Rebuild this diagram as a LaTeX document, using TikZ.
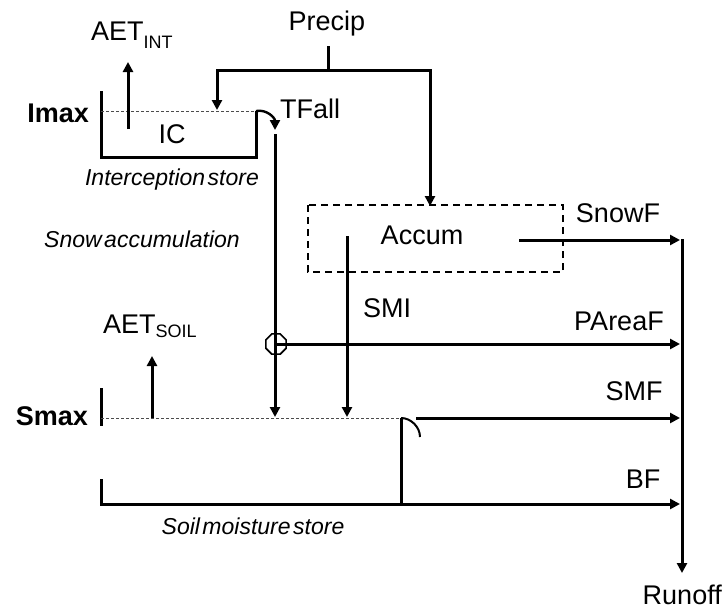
\documentclass[tikz,border=0pt]{standalone}
\usepackage{fontspec}
\setmainfont{Liberation Sans}
\usetikzlibrary{arrows.meta,shapes.geometric}
\newcommand{\subtxt}[2]{\raisebox{-#1pt}{\fontsize{18}{20}\selectfont #2}}
\begin{document}
\begin{tikzpicture}[x=1pt,y=-1pt,
 flow/.style={line width=3pt,-{Triangle[length=10pt,width=10pt]}},
 wall/.style={line width=3pt},
 level/.style={line width=0.8pt,gray!60!black,dash pattern=on 3pt off 2pt},
 lbl/.style={font=\fontsize{27}{30}\selectfont,inner sep=0,anchor=base},
 blbl/.style={font=\fontsize{27}{30}\selectfont\bfseries,inner sep=0,anchor=base east},
 ilbl/.style={font=\fontsize{23}{26}\selectfont\itshape,inner sep=0,anchor=base},
]
\useasboundingbox (0,0) rectangle (724,611);
% coordinates
\coordinate (ictl) at (101,91);
\coordinate (icbl) at (101,157);
\coordinate (icbr) at (256,157);
\coordinate (icl) at (101,111);
\coordinate (icr) at (256,111);
\coordinate (aetib) at (128,129);
\coordinate (aetit) at (128,62);
\coordinate (pb) at (328,46);
\coordinate (pj) at (328,70);
\coordinate (pl) at (217,70);
\coordinate (pld) at (217,110);
\coordinate (pr) at (430,70);
\coordinate (prd) at (430,206);
\coordinate (tft) at (275,130);
\coordinate (tfs) at (275,134);
\coordinate (tfb) at (275,417);
\coordinate (smit) at (347,236);
\coordinate (smib) at (347,417);
\coordinate (sws) at (519,240);
\coordinate (swe) at (680,240);
\coordinate (rt) at (682,239);
\coordinate (rb) at (682,573);
\coordinate (pae) at (680,344);
\coordinate (sl) at (101,418);
\coordinate (sr) at (401,418);
\coordinate (swt) at (101,388);
\coordinate (swm) at (101,426);
\coordinate (swl) at (101,479);
\coordinate (sbl) at (101,504);
\coordinate (sbr) at (401,504);
\coordinate (hk) at (420,437);
\coordinate (aetsb) at (152,418);
\coordinate (aetst) at (152,356);
\coordinate (smfs) at (416,418);
\coordinate (smfe) at (680,418);
\coordinate (bfs) at (403,504);
\coordinate (bfe) at (680,504);

% interception store
\draw[wall] (ictl) -- (icbl) -- (icbr) -- (icr);
\draw[level] (icl) -- (icr);
\node[blbl] (imax) at (89,122) {Imax};
\node[lbl] (ic) at (172,143) {IC};
\draw[flow] (aetib) -- (aetit);
\node[lbl,anchor=base west] (aetint) at (91,40) {AET\subtxt{8}{INT}};
\node[ilbl] (intlab) at (172,185) {Interception\hspace{2.5pt}store};

% precipitation
\node[lbl] (precip) at (327,30) {Precip};
\draw[wall] (pb) -- (pj);
\draw[flow] (pj) -- (pl) -- (pld);
\draw[flow] (pj) -- (pr) -- (prd);

% throughfall
\node[lbl,anchor=base west] (tfall) at (280,118) {TFall};
\draw[flow,line width=2.4pt] (icr) .. controls (267,109) and (275,118) .. (tft);
\draw[flow] (tfs) -- (tfb);

% snow
\node[ilbl] (snowlab) at (142,247) {Snow\hspace{2.5pt}accumulation};
\draw[line width=2pt,dash pattern=on 7pt off 5pt] (308,205) rectangle (563,272);
\node[lbl] (accum) at (422,244) {Accum};
\draw[flow] (smit) -- (smib);
\node[lbl,anchor=base west] (smi) at (363,317) {SMI};
\draw[flow] (sws) -- (swe);
\node[lbl] (snowf) at (618,222) {SnowF};

% runoff
\draw[flow] (rt) -- (rb);
\node[lbl,anchor=base east] (runoff) at (722,604) {Runoff};

% partial area flow
\node[regular polygon,regular polygon sides=8,draw,line width=1.6pt,minimum size=22pt,inner sep=0] (oct) at (276,344) {};
\draw[flow] (oct.center) -- (pae);
\node[lbl] (pareaf) at (619,330) {PAreaF};

% soil store
\draw[wall] (swt) -- (swm);
\draw[wall] (swl) -- (sbl) -- (sbr) -- (sr);
\draw[level] (sl) -- (sr);
\draw[line width=2pt] (sr) .. controls (411,418) and (420,427) .. (hk);
\node[blbl] (smax) at (88,425) {Smax};
\draw[flow] (aetsb) -- (aetst);
\node[lbl,anchor=base west] (aets) at (103,333) {AET\subtxt{4}{SOIL}};
\draw[flow] (smfs) -- (smfe);
\node[lbl] (smf) at (634,400) {SMF};
\draw[flow] (bfs) -- (bfe);
\node[lbl] (bf) at (643,488) {BF};
\node[ilbl] (soillab) at (253,534) {Soil\hspace{2.5pt}moisture\hspace{2.5pt}store};
\end{tikzpicture}
\end{document}
